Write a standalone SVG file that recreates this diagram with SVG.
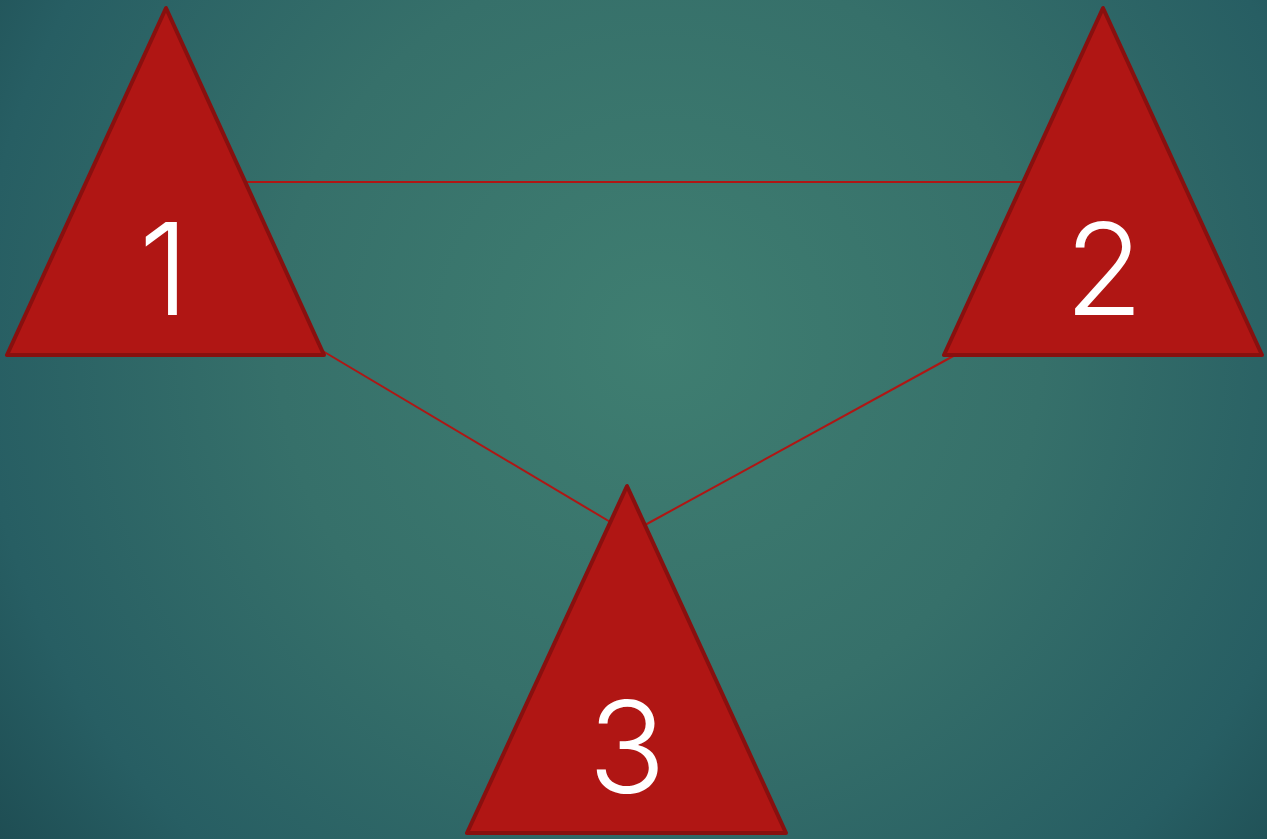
<svg xmlns="http://www.w3.org/2000/svg" width="1267" height="839" viewBox="0 0 1267 839">
<defs>
<radialGradient id="bg" cx="660" cy="340" r="850" gradientUnits="userSpaceOnUse">
<stop offset="0" stop-color="#3f7e71"/>
<stop offset="0.45" stop-color="#36706a"/>
<stop offset="0.8" stop-color="#275e63"/>
<stop offset="1" stop-color="#1d4b51"/>
</radialGradient>
<style>
.tri{fill:#b01614;stroke:#88100f;stroke-width:4;stroke-linejoin:round}
.lbl{fill:#ffffff;font-family:Inter,"Noto Sans",sans-serif;font-weight:300;font-size:128px;text-anchor:middle}
.conn{stroke:#b01614;stroke-width:2;fill:none}
</style>
</defs>
<rect x="0" y="0" width="1267" height="839" fill="url(#bg)"/>
<g id="connectors">
<line class="conn" x1="246" y1="182" x2="1023" y2="182"/>
<line class="conn" x1="321" y1="350" x2="612" y2="523"/>
<line class="conn" x1="645" y1="525" x2="957" y2="354"/>
</g>
<g id="node1">
<polygon class="tri" points="166,8 7,355 324,355"/>
<text class="lbl" x="164" y="315">1</text>
</g>
<g id="node2">
<polygon class="tri" points="1103,8 944,355 1262,355"/>
<text class="lbl" x="1104" y="315">2</text>
</g>
<g id="node3">
<polygon class="tri" points="627,486 467,833 786,833"/>
<text class="lbl" x="627" y="793">3</text>
</g>
</svg>
